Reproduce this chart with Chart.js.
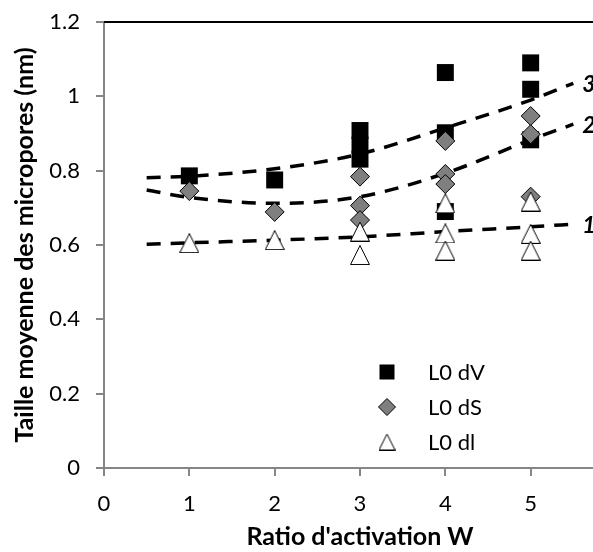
<!doctype html>
<html>
<head>
<meta charset="utf-8">
<script src="https://cdn.jsdelivr.net/npm/chart.js@4.4.1/dist/chart.umd.min.js"></script>
<style>
    body { margin: 0; overflow: hidden; background: #fff; }
    #wrap { width: 640px; height: 552px; }
</style>
</head>
<body>
<div id="wrap"><canvas id="chart"></canvas></div>
<script>
// L0 series, measured points
const dvX = [1, 2, 3, 3, 3, 4, 4, 4, 5, 5, 5];
const dvY = [0.786, 0.775, 0.908, 0.869, 0.831, 1.064, 0.902, 0.690, 1.090, 1.019, 0.883];
const dsX = [1, 2, 3, 3, 3, 4, 4, 4, 5, 5, 5];
const dsY = [0.745, 0.689, 0.784, 0.706, 0.667, 0.880, 0.791, 0.764, 0.947, 0.898, 0.730];
const dlX = [1, 2, 3, 3, 4, 4, 4, 5, 5, 5];
const dlY = [0.605, 0.613, 0.636, 0.573, 0.712, 0.631, 0.585, 0.717, 0.630, 0.585];

// dashed trend curves
const trendX = [0.5, 1, 2, 3, 4, 5, 5.5];
const trend3 = [0.781, 0.785, 0.805, 0.845, 0.915, 0.990, 1.035];
const trend2 = [0.748, 0.728, 0.712, 0.730, 0.793, 0.883, 0.925];
const trend1 = [0.602, 0.606, 0.613, 0.622, 0.636, 0.649, 0.656];

const seriesNames = ['L0 dV', 'L0 dS', 'L0 dl'];
const trendNames = ['3', '2', '1'];
const yTickLabels = ['0', '0.2', '0.4', '0.6', '0.8', '1', '1.2'];
const xTickLabels = ['0', '1', '2', '3', '4', '5', '6'];

const FONT = 'Lato';
const AXIS_GREY = '#868686';

function pts(xs, ys) {
    return xs.map((x, i) => ({ x: x, y: ys[i] }));
}

// white triangle with black outline (taller than chart.js's own triangle)
function triMarker(size) {
    const c = document.createElement('canvas');
    c.width = size; c.height = size;
    const g = c.getContext('2d');
    g.beginPath();
    g.moveTo(size / 2, 0.5);
    g.lineTo(size - 0.5, size - 0.5);
    g.lineTo(0.5, size - 0.5);
    g.closePath();
    g.fillStyle = '#fff';
    g.fill();
    g.strokeStyle = '#000';
    g.lineWidth = 1;
    g.stroke();
    return c;
}
const tri = triMarker(20);
const triSmall = triMarker(17);

function trendSet(name, ys) {
    return {
        type: 'line',
        label: name,
        data: pts(trendX, ys),
        showLine: true,
        borderColor: '#000',
        borderWidth: 3.5,
        borderDash: [14, 10],
        cubicInterpolationMode: 'monotone',
        pointRadius: 0,
        fill: false,
        order: 10
    };
}

const datasets = [
    {
        label: seriesNames[0],
        data: pts(dvX, dvY),
        pointStyle: 'rect',
        pointRadius: 12,
        backgroundColor: '#000',
        borderColor: '#000',
        borderWidth: 0,
        order: 3
    },
    {
        label: seriesNames[1],
        data: pts(dsX, dsY),
        pointStyle: 'rectRot',
        pointRadius: 9.5,
        backgroundColor: '#7f7f7f',
        borderColor: '#000',
        borderWidth: 1,
        order: 2
    },
    {
        label: seriesNames[2],
        data: pts(dlX, dlY),
        pointStyle: tri,
        pointRadius: 10,
        backgroundColor: '#fff',
        borderColor: '#000',
        borderWidth: 1,
        order: 1
    },
    trendSet(trendNames[0], trend3),
    trendSet(trendNames[1], trend2),
    trendSet(trendNames[2], trend1)
];

// top border of the plot area + legend inside + curve numbers
const decor = {
    id: 'decor',
    beforeDatasetsDraw(chart) {
        const ctx = chart.ctx;
        const a = chart.chartArea;
        ctx.save();
        ctx.strokeStyle = '#000';
        ctx.lineWidth = 2;
        ctx.beginPath();
        ctx.moveTo(a.left, a.top);
        ctx.lineTo(a.right, a.top);
        ctx.stroke();
        ctx.restore();
    },
    afterDatasetsDraw(chart) {
        const ctx = chart.ctx;
        ctx.save();

        // legend
        const lx = 387, ly = 372, step = 35;
        ctx.font = '22px ' + FONT;
        ctx.textBaseline = 'middle';
        for (let i = 0; i < 3; i++) {
            const y = ly + i * step;
            if (i === 0) {
                ctx.fillStyle = '#000';
                ctx.fillRect(lx - 7.5, y - 7.5, 15, 15);
            } else if (i === 1) {
                ctx.fillStyle = '#7f7f7f';
                ctx.strokeStyle = '#000';
                ctx.lineWidth = 1;
                ctx.beginPath();
                ctx.moveTo(lx - 8.5, y);
                ctx.lineTo(lx, y - 8.5);
                ctx.lineTo(lx + 8.5, y);
                ctx.lineTo(lx, y + 8.5);
                ctx.closePath();
                ctx.fill();
                ctx.stroke();
            } else {
                ctx.drawImage(triSmall, lx - 8.5, y - 8.5);
            }
            ctx.fillStyle = '#000';
            ctx.textAlign = 'left';
            ctx.fillText(seriesNames[i], lx + 41, y + 1);
        }

        // numbers at the end of each dashed curve
        ctx.font = 'italic bold 23px ' + FONT;
        chart.data.datasets.forEach((ds, i) => {
            if (ds.type !== 'line') return;
            const meta = chart.getDatasetMeta(i);
            const last = meta.data[meta.data.length - 1];
            ctx.fillText(ds.label, last.x + 9, last.y + 1);
        });
        ctx.restore();
    }
};

const config = {
    type: 'scatter',
    data: { datasets: datasets },
    options: {
        responsive: true,
        maintainAspectRatio: false,
        animation: false,
        layout: { padding: { top: 22, right: 24, bottom: 0, left: 6 } },
        plugins: {
            legend: { display: false },
            tooltip: { enabled: false }
        },
        scales: {
            x: {
                type: 'linear',
                min: 0,
                max: 6,
                ticks: {
                    stepSize: 1,
                    color: '#000',
                    font: { family: FONT, size: 22 },
                    padding: 15,
                    callback: (v) => xTickLabels[Math.round(v)]
                },
                grid: { drawOnChartArea: false, drawTicks: true, tickLength: 8, color: AXIS_GREY, lineWidth: 2 },
                border: { display: true, color: AXIS_GREY, width: 2 },
                title: {
                    display: true,
                    text: "Ratio d'activation W",
                    color: '#000',
                    font: { family: FONT, size: 25, weight: 'bold' },
                    padding: { top: 0, bottom: 0 }
                },
                afterFit(scale) { scale.height = 84; }
            },
            y: {
                min: 0,
                max: 1.2,
                ticks: {
                    stepSize: 0.2,
                    color: '#000',
                    font: { family: FONT, size: 22 },
                    padding: 16,
                    callback: (v) => yTickLabels[Math.round(v * 5)]
                },
                grid: { drawOnChartArea: false, drawTicks: true, tickLength: 8, color: AXIS_GREY, lineWidth: 2 },
                border: { display: true, color: AXIS_GREY, width: 2 },
                title: {
                    display: true,
                    text: 'Taille moyenne des micropores (nm)',
                    color: '#000',
                    font: { family: FONT, size: 25, weight: 'bold' },
                    padding: { top: 4, bottom: 0 }
                },
                afterFit(scale) {
                    // keep the plot top pinned to the layout padding
                    scale.width = 98;
                    scale.paddingTop = 0;
                    scale.paddingBottom = 0;
                }
            }
        }
    },
    plugins: [decor]
};

const ctx = document.getElementById('chart').getContext('2d');
const chart = new Chart(ctx, config);
</script>
</body>
</html>
